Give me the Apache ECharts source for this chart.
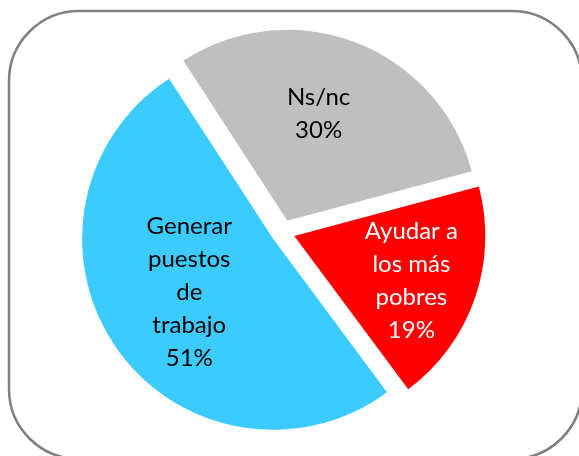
<!DOCTYPE html>
<html>
<head>
<meta charset="utf-8">
<script src="https://cdn.jsdelivr.net/npm/echarts@6/dist/echarts.min.js"></script>
<style>
  html, body { margin: 0; padding: 0; background: #fff; }
  #chart { width: 579px; height: 456px; }
</style>
</head>
<body>
<div id="chart"></div>
<script>
// clockwise from the top-left edge of the grey slice
const categories = ['Ns/nc', 'Ayudar a los más pobres', 'Generar puestos de trabajo']
const labelLines = ['Ns/nc', 'Ayudar a\nlos más\npobres', 'Generar\npuestos\nde\ntrabajo']
const values = [30, 19, 51]
const colors = ['#bfbfbf', '#ff0000', '#3ccbff']
const labelColors = ['#000000', '#ffffff', '#000000']
const labelShift = [[-4, -15], [24, 12], [-3, -3]]

const chart = echarts.init(document.getElementById('chart'), null, { renderer: 'canvas' })

const option = {
  animation: false,
  graphic: [
    {
      type: 'rect',
      shape: { x: 9, y: 11, width: 573, height: 448, r: 70 },
      style: { fill: 'none', stroke: '#808080', lineWidth: 2.5 },
      silent: true,
      z: 0,
    },
  ],
  series: [
    {
      type: 'pie',
      center: [283, 232],
      radius: 191,
      startAngle: 123,
      clockwise: true,
      selectedMode: 'multiple',
      selectedOffset: 12,
      silent: true,
      label: {
        show: true,
        position: 'inside',
        fontFamily: 'Lato',
        fontSize: 24,
        lineHeight: 33,
        align: 'center',
        formatter: (p) => labelLines[p.dataIndex] + '\n' + p.value + '%',
      },
      labelLine: { show: false },
      labelLayout: (p) => ({ dx: labelShift[p.dataIndex][0], dy: labelShift[p.dataIndex][1] }),
      data: categories.map((name, i) => ({
        name,
        value: values[i],
        selected: true,
        itemStyle: { color: colors[i], borderWidth: 0 },
        select: { itemStyle: { color: colors[i] } },
        label: { color: labelColors[i] },
      })),
    },
  ],
}

chart.setOption(option)
</script>
</body>
</html>
